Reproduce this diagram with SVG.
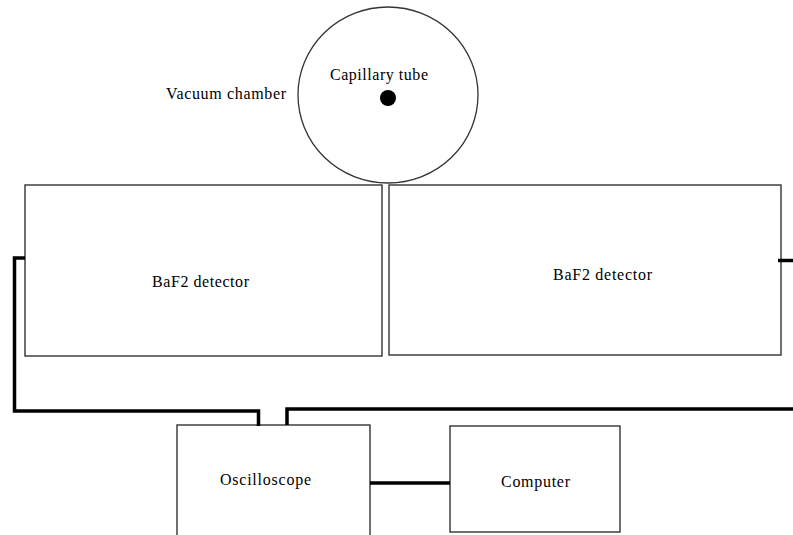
<svg xmlns="http://www.w3.org/2000/svg" width="793" height="535" viewBox="0 0 793 535">
<style>
.box{fill:#fff;stroke:#333;stroke-width:1.4}
.lbl{font-family:'Liberation Serif','Times New Roman','DejaVu Serif',serif;font-size:16px;fill:#000}
.wire{fill:none;stroke:#000;stroke-width:3.5}
</style>
<rect width="793" height="535" fill="#fff"/>
<g id="vacuum-chamber">
<ellipse cx="388" cy="95" rx="90" ry="88" fill="#fff" stroke="#333" stroke-width="1.3"/>
<text class="lbl" x="166" y="99" textLength="120" lengthAdjust="spacing">Vacuum chamber</text>
</g>
<g id="capillary-tube">
<circle cx="388" cy="98" r="8" fill="#000"/>
<text class="lbl" x="330" y="80" textLength="98" lengthAdjust="spacing">Capillary tube</text>
</g>
<g id="detector-left">
<rect class="box" x="25" y="185" width="357" height="171"/>
<text class="lbl" x="152" y="287" textLength="97" lengthAdjust="spacing">BaF2 detector</text>
</g>
<g id="detector-right">
<rect class="box" x="389" y="185" width="392" height="170"/>
<text class="lbl" x="553" y="280" textLength="99" lengthAdjust="spacing">BaF2 detector</text>
</g>
<g id="oscilloscope">
<rect class="box" x="177" y="425" width="193" height="120"/>
<text class="lbl" x="220" y="485" textLength="91" lengthAdjust="spacing">Oscilloscope</text>
</g>
<g id="computer">
<rect class="box" x="450" y="426" width="170" height="106"/>
<text class="lbl" x="501" y="487" textLength="69" lengthAdjust="spacing">Computer</text>
</g>
<g id="connectors">
<polyline class="wire" points="25,258 14.5,258 14.5,411 258.5,411 258.5,426"/>
<polyline class="wire" points="287,425 287,409 793,409"/>
<polyline class="wire" points="778,260.5 793,260.5"/>
<polyline class="wire" points="370,483 450,483"/>
</g>
</svg>
